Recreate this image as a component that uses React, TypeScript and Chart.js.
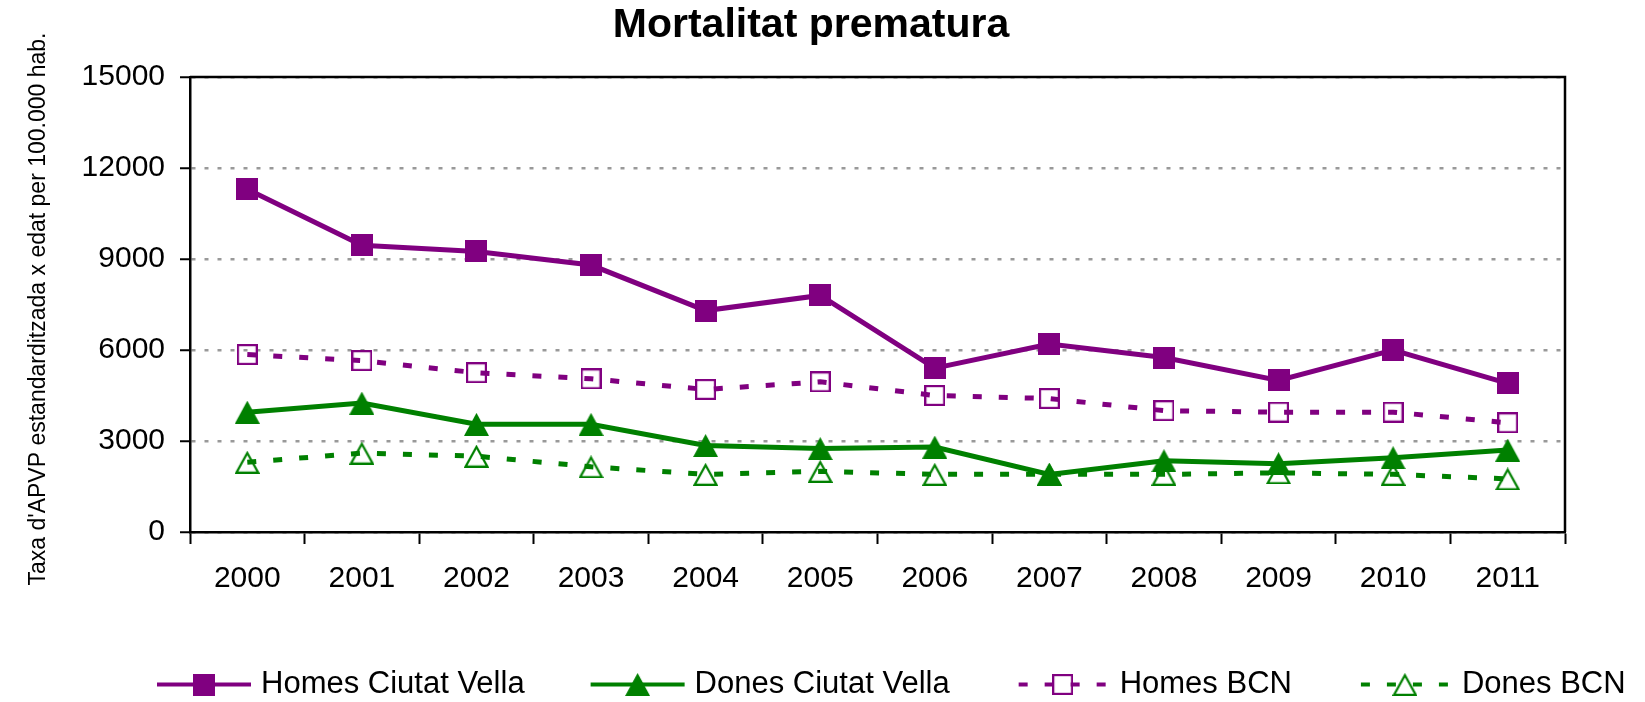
import { useEffect, useRef } from 'react';
import { Chart, registerables } from 'chart.js';

Chart.register(...registerables);

const FONT = "'Liberation Sans', Arial, Helvetica, sans-serif";

const TITLE = 'Mortalitat prematura';
const Y_TITLE = "Taxa d'APVP estandarditzada x edat per 100.000 hab.";
const YEARS = ['2000', '2001', '2002', '2003', '2004', '2005', '2006', '2007', '2008', '2009', '2010', '2011'];
const Y_TICKS = [0, 3000, 6000, 9000, 12000, 15000];
const SERIES_NAMES = ['Homes Ciutat Vella', 'Dones Ciutat Vella', 'Homes BCN', 'Dones BCN'];

const HOMES_CV = [11300, 9450, 9250, 8800, 7300, 7800, 5400, 6200, 5750, 5000, 6000, 4900];
const DONES_CV = [3950, 4250, 3550, 3550, 2850, 2750, 2800, 1900, 2350, 2250, 2450, 2700];
const HOMES_BCN = [5850, 5650, 5250, 5050, 4700, 4950, 4500, 4400, 4000, 3950, 3950, 3600];
const DONES_BCN = [2300, 2600, 2500, 2150, 1900, 2000, 1900, 1900, 1900, 1950, 1900, 1750];

const PURPLE = '#800080';
const GREEN = '#008000';

function makeSquare(size: number, color: string, filled: boolean, lw: number) {
  const c = document.createElement('canvas');
  c.width = size;
  c.height = size;
  const ctx = c.getContext('2d')!;
  if (filled) {
    ctx.fillStyle = color;
    ctx.fillRect(0, 0, size, size);
  } else {
    ctx.strokeStyle = color;
    ctx.lineWidth = lw;
    ctx.strokeRect(lw / 2, lw / 2, size - lw, size - lw);
  }
  return c;
}

function makeTriangle(w: number, h: number, color: string, filled: boolean, lw: number) {
  const c = document.createElement('canvas');
  c.width = w;
  c.height = h;
  const ctx = c.getContext('2d')!;
  ctx.beginPath();
  if (filled) {
    ctx.moveTo(w / 2, 0);
    ctx.lineTo(w, h);
    ctx.lineTo(0, h);
    ctx.closePath();
    ctx.fillStyle = color;
    ctx.fill();
  } else {
    ctx.moveTo(w / 2, lw);
    ctx.lineTo(w - lw / 2 - 0.5, h - lw / 2);
    ctx.lineTo(lw / 2 + 0.5, h - lw / 2);
    ctx.closePath();
    ctx.strokeStyle = color;
    ctx.lineWidth = lw;
    ctx.lineJoin = 'miter';
    ctx.stroke();
  }
  return c;
}

const framePlugin = {
  id: 'frame',
  beforeDatasetsDraw(chart: any) {
    const { ctx, chartArea } = chart;
    ctx.save();
    ctx.strokeStyle = '#000';
    ctx.lineWidth = 2.5;
    ctx.beginPath();
    ctx.moveTo(chartArea.left, chartArea.top);
    ctx.lineTo(chartArea.right, chartArea.top);
    ctx.lineTo(chartArea.right, chartArea.bottom);
    ctx.stroke();
    ctx.restore();
  },
};

const titlesPlugin = {
  id: 'titles',
  afterDraw(chart: any) {
    const ctx = chart.ctx;
    ctx.save();
    ctx.fillStyle = '#000';
    ctx.textAlign = 'center';
    ctx.textBaseline = 'middle';
    ctx.font = `bold 41px ${FONT}`;
    ctx.fillText(TITLE, 811, 25.5);
    ctx.translate(38.5, 309);
    ctx.rotate(-Math.PI / 2);
    ctx.font = `23px ${FONT}`;
    ctx.fillText(Y_TITLE, 0, 0);
    ctx.restore();
  },
};

const legendPlugin = {
  id: 'customLegend',
  afterDraw(chart: any) {
    const ctx = chart.ctx;
    ctx.save();
    ctx.font = `31px ${FONT}`;
    let x = 157;
    const y = 684.5;
    chart.data.datasets.forEach((ds: any, i: number) => {
      const dashed = ds.borderDash && ds.borderDash.length;
      ctx.strokeStyle = ds.borderColor;
      ctx.lineWidth = 4;
      ctx.lineCap = 'butt';
      ctx.setLineDash(dashed ? ds.borderDash : []);
      ctx.beginPath();
      ctx.moveTo(x + (dashed ? 3 : 0), y);
      ctx.lineTo(x + 94, y);
      ctx.stroke();
      ctx.setLineDash([]);
      const img = ds.pointStyle as HTMLCanvasElement;
      ctx.drawImage(img, x + 47 - img.width / 2, y - img.height / 2);
      ctx.fillStyle = '#000';
      ctx.textBaseline = 'middle';
      ctx.textAlign = 'left';
      const name = SERIES_NAMES[i];
      ctx.fillText(name, x + 104, y);
      x += 104 + ctx.measureText(name).width + 66;
    });
    ctx.restore();
  },
};

export default function App() {
  const ref = useRef<HTMLCanvasElement | null>(null);

  useEffect(() => {
    if (!ref.current) return;
    const sqFilled = makeSquare(22, PURPLE, true, 0);
    const sqHollow = makeSquare(21, PURPLE, false, 2.2);
    const triFilled = makeTriangle(25, 23, GREEN, true, 0);
    const triHollow = makeTriangle(25, 23, GREEN, false, 2.2);

    const chart = new Chart(ref.current, {
      type: 'line',
      data: {
        labels: YEARS,
        datasets: [
          {
            label: SERIES_NAMES[0],
            data: HOMES_CV,
            borderColor: PURPLE,
            backgroundColor: PURPLE,
            borderWidth: 5,
            pointStyle: sqFilled as any,
            pointRadius: 10,
            tension: 0,
          },
          {
            label: SERIES_NAMES[1],
            data: DONES_CV,
            borderColor: GREEN,
            backgroundColor: GREEN,
            borderWidth: 5,
            pointStyle: triFilled as any,
            pointRadius: 10,
            tension: 0,
          },
          {
            label: SERIES_NAMES[2],
            data: HOMES_BCN,
            borderColor: PURPLE,
            backgroundColor: PURPLE,
            borderWidth: 5,
            borderDash: [9, 17],
            borderCapStyle: 'butt',
            pointStyle: sqHollow as any,
            pointRadius: 10,
            tension: 0,
          },
          {
            label: SERIES_NAMES[3],
            data: DONES_BCN,
            borderColor: GREEN,
            backgroundColor: GREEN,
            borderWidth: 5,
            borderDash: [9, 17],
            borderCapStyle: 'butt',
            pointStyle: triHollow as any,
            pointRadius: 10,
            tension: 0,
          },
        ],
      },
      options: {
        responsive: false,
        animation: false,
        events: [],
        layout: { padding: { left: 0, right: 80, top: 77, bottom: 106 } },
        plugins: {
          legend: { display: false },
          tooltip: { enabled: false },
          title: { display: false },
        },
        scales: {
          x: {
            type: 'category',
            offset: true,
            afterFit: (s: any) => {
              s.height = 64;
            },
            grid: {
              display: true,
              drawOnChartArea: false,
              drawTicks: true,
              offset: true,
              tickLength: 12,
              tickColor: '#000',
              tickWidth: 2,
            },
            border: { display: true, color: '#000', width: 2.5 },
            ticks: {
              color: '#000',
              padding: 17,
              maxRotation: 0,
              autoSkip: false,
              font: { family: FONT, size: 30, lineHeight: 1.2 },
            },
          },
          y: {
            min: 0,
            max: 15000,
            afterFit: (s: any) => {
              s.width = 190;
            },
            afterBuildTicks: (s: any) => {
              s.ticks = Y_TICKS.map((v) => ({ value: v }));
            },
            grid: {
              display: true,
              drawOnChartArea: true,
              drawTicks: true,
              color: '#999999',
              lineWidth: 2.5,
              tickLength: 10,
              tickColor: '#000',
              tickWidth: 2,
            },
            border: { display: true, color: '#000', width: 2.5, dash: [4, 9] },
            ticks: {
              color: '#000',
              padding: 15,
              font: { family: FONT, size: 30, lineHeight: 1.2 },
              callback: (v: any) => String(v),
            },
          },
        },
      },
      plugins: [framePlugin, titlesPlugin, legendPlugin],
    });

    return () => chart.destroy();
  }, []);

  return (
    <div style={{ position: 'fixed', left: 0, top: 0, width: 1645, height: 702, background: '#fff' }}>
      <canvas ref={ref} width={1645} height={702} style={{ width: 1645, height: 702, display: 'block' }} />
    </div>
  );
}
